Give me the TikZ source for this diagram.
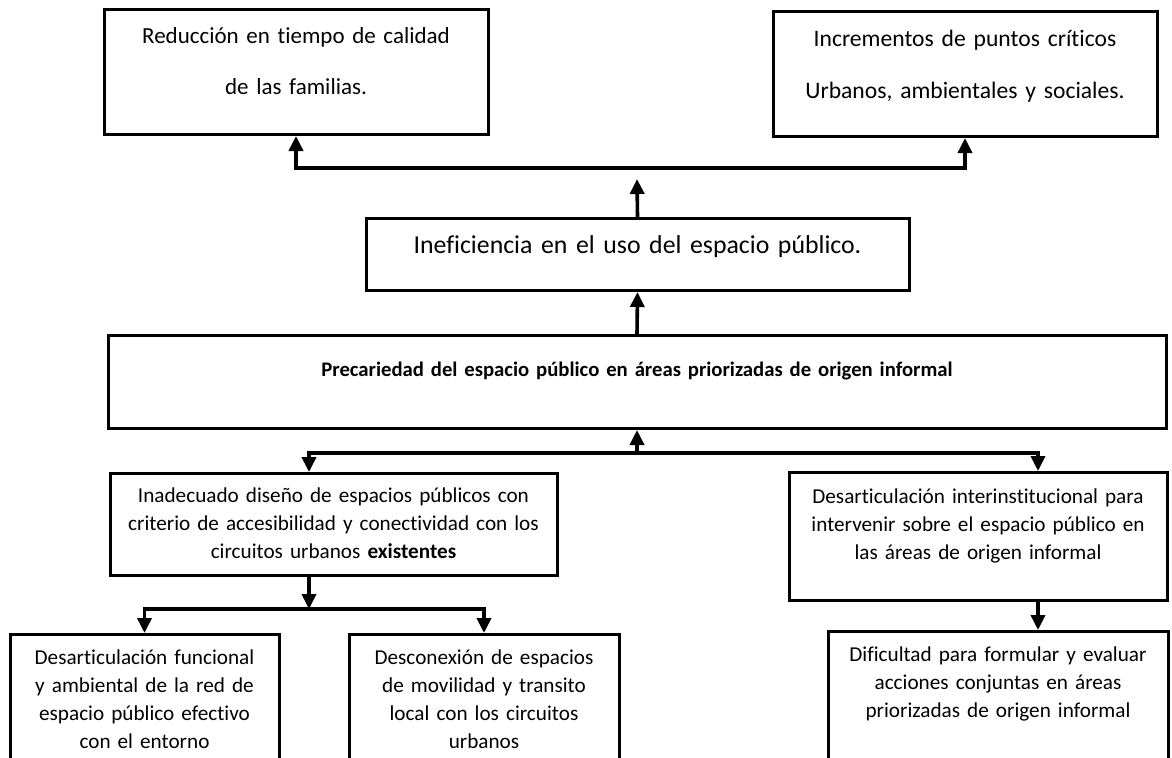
\documentclass[tikz,border=0pt]{standalone}
\usepackage{fontspec}
\setmainfont{Carlito}[Ligatures=NoCommon]
\usetikzlibrary{arrows.meta}
\usetikzlibrary{positioning}

\begin{document}
\begin{tikzpicture}[x=0.5pt,y=-0.5pt,line join=miter,
  caja/.style={draw,line width=1.5pt,anchor=north,align=center,inner xsep=0pt,inner ysep=0pt,font=\fontsize{10.6}{14}\selectfont},
  flecha/.style={line width=1.8pt,-{Triangle[length=7.5pt,width=7pt]}}]
\useasboundingbox (0,0) rectangle (1172,757);
\clip (0,0) rectangle (1172,757);
% efectos
\node[caja,text width=192pt,text height=17pt,text depth=45.5pt,font=\fontsize{11.5}{25.5}\selectfont] (red) at (296,8) {Reducción en tiempo de calidad\\de las familias.};
\node[caja,text width=192pt,text height=17.5pt,text depth=45pt,font=\fontsize{11.8}{26}\selectfont] (inc) at (965,10) {Incrementos de puntos críticos\\Urbanos, ambientales y sociales.};
\node[caja,text width=271.5pt,text height=17.5pt,text depth=18.5pt,font=\fontsize{12.9}{16}\selectfont] (inef) at (637.5,217) {Ineficiencia en el uso del espacio público.};
% problema central
\node[caja,text width=529pt,text height=20.5pt,text depth=26pt,font=\fontsize{10.35}{13}\selectfont\bfseries] (prec) at (637,334) {Precariedad del espacio público en áreas priorizadas de origen informal};
% causas
\node[caja,text width=223.5pt,text height=14.5pt,text depth=36.5pt] (inad) at (333.5,472) {Inadecuado diseño de espacios públicos con\\criterio de accesibilidad y conectividad con los\\circuitos urbanos \textbf{existentes}};
\node[caja,text width=189pt,text height=15.5pt,text depth=48.5pt] (desart) at (978,471) {Desarticulación interinstitucional para\\intervenir sobre el espacio público en\\las áreas de origen informal};
\node[caja,text width=134.5pt,text height=15pt,text depth=70pt] (func) at (144.5,633) {Desarticulación funcional\\y ambiental de la red de\\espacio público efectivo\\con el entorno};
\node[caja,text width=135pt,text height=15pt,text depth=70pt] (desc) at (484,633) {Desconexión de espacios\\de movilidad y transito\\local con los circuitos\\urbanos};
\node[caja,text width=170pt,text height=15pt,text depth=70pt] (dif) at (998,630) {Dificultad para formular y evaluar\\acciones conjuntas en áreas\\priorizadas de origen informal};
% conectores
\coordinate (sup) at (637,168);
\coordinate (supTip) at (637,179);
\draw[flecha] (inef.north) -- (supTip);
\draw[flecha] (sup) -| (red.south);
\draw[flecha] (sup) -| (inc.south);
\draw[flecha] (prec.north) -- (inef.south);
\coordinate (med) at (637,453);
\draw[flecha] (med) -- (prec.south);
\draw[flecha] (med) -| ([xshift=-12.25pt]inad.north);
\draw[flecha] (med) -| ([xshift=30pt]desart.north);
\coordinate (bif) at (309,609);
\draw[flecha] ([xshift=-12.25pt]inad.south) -- (bif);
\draw[flecha] (bif) -| (func.north);
\draw[flecha] (bif) -| (desc.north);
\draw[flecha] ([xshift=30pt]desart.south) -- ([xshift=30pt]desart.south |- dif.north);
\end{tikzpicture}
\end{document}
